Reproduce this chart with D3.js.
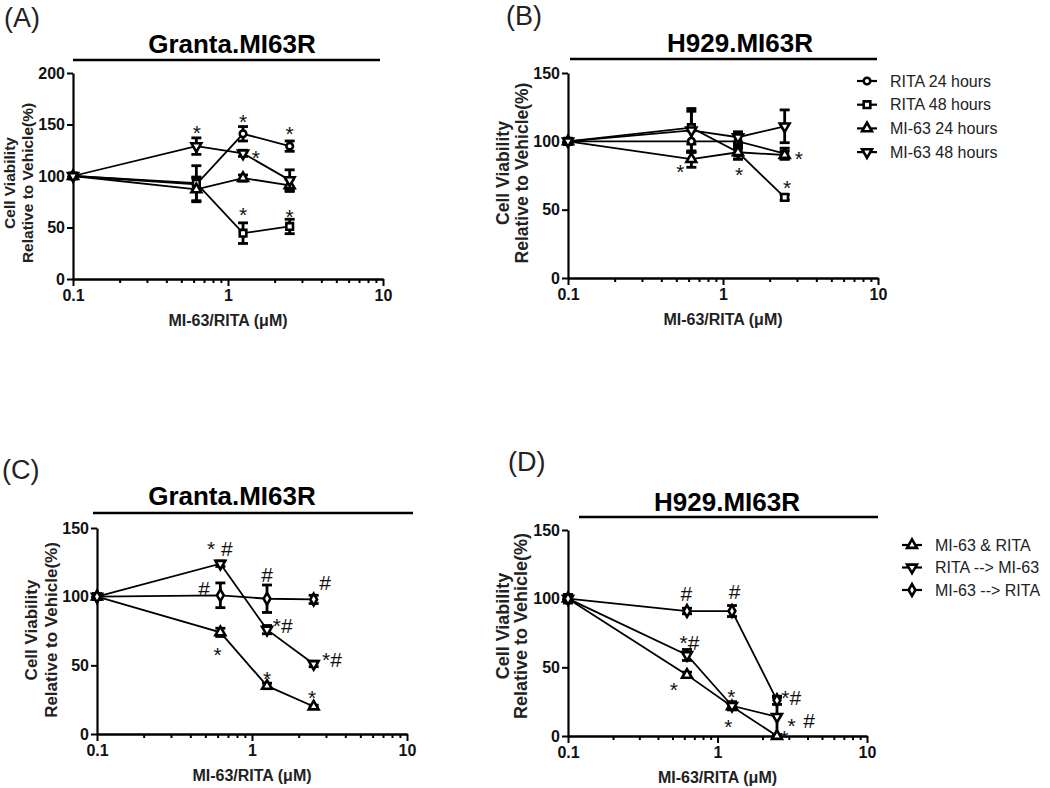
<!DOCTYPE html>
<html>
<head>
<meta charset="utf-8">
<script src="https://cdnjs.cloudflare.com/ajax/libs/d3/7.8.5/d3.min.js"></script>
<style>
  body { margin: 0; background: #fff; }
  text { font-family: Arial, "Liberation Sans", sans-serif; }
</style>
</head>
<body>
<div id="graph"></div>
<script>
//concentrations used in every panel (uM)
var conc = [0.1, 0.625, 1.25, 2.5];
var xMajor = [0.1, 1, 10];
var xMinor = [0.2, 0.3, 0.4, 0.5, 0.6, 0.7, 0.8, 0.9, 2, 3, 4, 5, 6, 7, 8, 9];

//panel A - Granta.MI63R single agents
var aRita24 = [100, 92, 141, 129];
var aRita24Err = [2, 6, 7, 5];
var aRita48 = [100, 93, 44.5, 51];
var aRita48Err = [2, 17, 10, 7];
var aMi24 = [100, 87, 98, 91];
var aMi24Err = [2, 12, 3, 6];
var aMi48 = [100, 129, 122, 96];
var aMi48Err = [2, 8, 3, 10];

//panel B - H929.MI63R single agents
var bRita24 = [100, 100, 100, 91];
var bRita24Err = [2, 8, 5, 4];
var bRita48 = [100, 110, 92, 59];
var bRita48Err = [2, 12, 5, 2];
var bMi24 = [100, 87, 92, 90];
var bMi24Err = [2, 6, 5, 3];
var bMi48 = [100, 108, 103, 111];
var bMi48Err = [2, 16, 4, 12];

//panel C - Granta.MI63R combinations
var cBoth = [100, 74, 35, 20];
var cBothErr = [2, 3, 2, 1];
var cRitaMi = [100, 124, 76, 51];
var cRitaMiErr = [2, 2, 3, 2];
var cMiRita = [100, 101, 98.5, 98];
var cMiRitaErr = [2, 9, 10, 3];

//panel D - H929.MI63R combinations
var dBoth = [100, 44.5, 21.5, 0];
var dBothErr = [3, 2, 2, 1];
var dRitaMi = [100, 59, 22, 14];
var dRitaMiErr = [3, 4, 3, 14];
var dMiRita = [100, 91, 91, 26];
var dMiRitaErr = [3, 2, 4, 3];

//legend names
var singleNames = ["RITA 24 hours", "RITA 48 hours", "MI-63 24 hours", "MI-63 48 hours"];
var comboNames = ["MI-63 & RITA", "RITA --> MI-63", "MI-63 --> RITA"];

//significance marks: [x (uM), y (%), text]
var aMarks = [[0.63, 147, "*"], [1.25, 157, "*"], [2.5, 146, "*"], [1.51, 122, "*"], [1.25, 67, "*"], [2.5, 65, "*"]];
var bMarks = [[0.53, 81, "*"], [1.27, 79, "*"], [3.09, 91, "*"], [2.59, 69.5, "*"]];
var cMarks = [[0.62, 135, "* #"], [0.49, 106, "#"], [1.25, 116, "#"], [2.96, 110, "#"], [1.58, 79, "*#"],
              [3.28, 54, "*#"], [0.6, 61, "*"], [1.25, 44, "*"], [2.44, 30, "*"]];
var dMarks = [[0.62, 104, "#"], [1.3, 105, "#"], [0.65, 68, "*#"], [0.51, 37, "*"], [1.24, 32, "*"],
              [1.18, 10, "*"], [3.11, 28, "*#"], [3.13, 11, "*"], [4.1, 11, "#"], [2.8, 2, "*"]];

var svg = d3.select("#graph").append("svg")
    .attr("width", 1050)
    .attr("height", 788);

//marker shapes
function markerPath(shape){
    if (shape === "circle") return d3.symbol(d3.symbolCircle, 34)();
    if (shape === "square") return d3.symbol(d3.symbolSquare, 44)();
    if (shape === "diamond") return d3.symbol(d3.symbolDiamond, 40)();
    return d3.symbol(d3.symbolTriangle, 42)();
}
function markerTransform(shape, px, py){
    return "translate(" + px + "," + py + ")" + (shape === "down" ? " rotate(180)" : "");
}

function drawPanel(p){
    const g = svg.append("g");
    const x = d3.scaleLog().domain([0.1, 10]).range([p.left, p.right]);
    const y = d3.scaleLinear().domain([0, p.yMax]).range([p.bottom, p.top]);

    //panel letter
    g.append("text")
        .attr("x", p.letterX).attr("y", p.letterY)
        .attr("font-size", 27).attr("fill", "#222")
        .text(p.letter);

    //title and rule
    g.append("text")
        .attr("x", p.titleX).attr("y", p.titleY)
        .attr("text-anchor", "middle")
        .attr("font-size", 26).attr("font-weight", "bold")
        .text(p.title);
    g.append("line")
        .attr("x1", p.ruleX1).attr("x2", p.ruleX2)
        .attr("y1", p.ruleY).attr("y2", p.ruleY)
        .attr("stroke", "#000").attr("stroke-width", 2.5);

    //y axis
    const yAxis = g.append("g")
        .attr("transform", "translate(" + p.left + ",0)")
        .call(d3.axisLeft(y).tickValues(p.yTicks).tickSize(6).tickSizeOuter(0).tickPadding(2));

    //x axis, minor then major ticks
    const xMinorAxis = g.append("g")
        .attr("transform", "translate(0," + p.bottom + ")")
        .call(d3.axisBottom(x).tickValues(xMinor).tickSize(4).tickSizeOuter(0).tickFormat(""));
    const xAxis = g.append("g")
        .attr("transform", "translate(0," + p.bottom + ")")
        .call(d3.axisBottom(x).tickValues(xMajor).tickSize(7).tickSizeOuter(0).tickPadding(4)
            .tickFormat(function(d){ return String(d); }));

    [yAxis, xMinorAxis, xAxis].forEach(function(a){
        a.select(".domain").attr("stroke-width", 2.2);
        a.selectAll(".tick line").attr("stroke-width", 2);
        a.selectAll("text").attr("font-size", 16).attr("font-weight", "bold").attr("fill", "#111");
    });

    //axis titles
    g.append("text")
        .attr("x", (p.left + p.right) / 2).attr("y", p.bottom + 47)
        .attr("text-anchor", "middle")
        .attr("font-size", 16).attr("font-weight", "bold").attr("fill", "#222")
        .text("MI-63/RITA (\u03BCM)");
    [["Cell Viability", p.yLab1], ["Relative to Vehicle(%)", p.yLab2]].forEach(function(l){
        g.append("text")
            .attr("transform", "translate(" + l[1] + "," + p.yLabY + ") rotate(-90)")
            .attr("text-anchor", "middle").attr("dy", "0.35em")
            .attr("font-size", p.yLabSize).attr("font-weight", "bold").attr("fill", "#222")
            .text(l[0]);
    });

    //lines
    const line = d3.line()
        .x(function(d, i){ return x(conc[i]); })
        .y(function(d){ return y(d); });
    p.series.forEach(function(s){
        g.append("path").datum(s.values)
            .attr("d", line)
            .attr("fill", "none").attr("stroke", "#000").attr("stroke-width", 1.8);
    });

    //error bars
    p.series.forEach(function(s){
        s.values.forEach(function(v, i){
            const cx = x(conc[i]);
            const lo = y(Math.max(0, v - s.errors[i]));
            const hi = y(v + s.errors[i]);
            g.append("line").attr("x1", cx).attr("x2", cx).attr("y1", lo).attr("y2", hi)
                .attr("stroke", "#000").attr("stroke-width", 2.8);
            [lo, hi].forEach(function(yy){
                g.append("line").attr("x1", cx - 5).attr("x2", cx + 5).attr("y1", yy).attr("y2", yy)
                    .attr("stroke", "#000").attr("stroke-width", 2.8);
            });
        });
    });

    //markers
    p.series.forEach(function(s){
        g.append("g").selectAll("path")
            .data(s.values)
            .enter().append("path")
            .attr("d", markerPath(s.shape))
            .attr("transform", function(d, i){ return markerTransform(s.shape, x(conc[i]), y(d)); })
            .attr("fill", "#fff").attr("stroke", "#000").attr("stroke-width", 2.6);
    });

    //significance marks
    g.append("g").selectAll("text")
        .data(p.marks)
        .enter().append("text")
        .attr("x", function(d){ return x(d[0]); })
        .attr("y", function(d){ return y(d[1]); })
        .attr("dy", function(d){ return d[2] === "*" ? "0.57em" : "0.35em"; })
        .attr("text-anchor", "middle")
        .attr("font-size", 21).attr("fill", "#111")
        .text(function(d){ return d[2]; });

    //legend
    if (p.legend){
        const lg = g.append("g");
        p.series.forEach(function(s, i){
            const ly = p.legend.y + i * p.legend.step;
            lg.append("line")
                .attr("x1", p.legend.x - 10).attr("x2", p.legend.x + 10)
                .attr("y1", ly).attr("y2", ly)
                .attr("stroke", "#000").attr("stroke-width", 2.2);
            lg.append("path")
                .attr("d", markerPath(s.shape))
                .attr("transform", markerTransform(s.shape, p.legend.x, ly))
                .attr("fill", "#fff").attr("stroke", "#000").attr("stroke-width", 2.6);
            lg.append("text")
                .attr("x", p.legend.x + 23).attr("y", ly).attr("dy", "0.35em")
                .attr("font-size", 16).attr("fill", "#222")
                .text(s.name);
        });
    }
}

function singleSeries(r24, r24e, r48, r48e, m24, m24e, m48, m48e){
    return [
        {name: singleNames[0], shape: "circle", values: r24, errors: r24e},
        {name: singleNames[1], shape: "square", values: r48, errors: r48e},
        {name: singleNames[2], shape: "up", values: m24, errors: m24e},
        {name: singleNames[3], shape: "down", values: m48, errors: m48e}
    ];
}
function comboSeries(both, bothE, rm, rmE, mr, mrE){
    return [
        {name: comboNames[0], shape: "up", values: both, errors: bothE},
        {name: comboNames[1], shape: "down", values: rm, errors: rmE},
        {name: comboNames[2], shape: "diamond", values: mr, errors: mrE}
    ];
}

drawPanel({
    letter: "(A)", letterX: 4, letterY: 27,
    title: "Granta.MI63R", titleX: 232, titleY: 53, ruleX1: 73, ruleX2: 380, ruleY: 60,
    left: 73, right: 383, top: 73, bottom: 279, yMax: 200, yTicks: [0, 50, 100, 150, 200],
    yLab1: 10, yLab2: 28, yLabY: 183, yLabSize: 15.5,
    series: singleSeries(aRita24, aRita24Err, aRita48, aRita48Err, aMi24, aMi24Err, aMi48, aMi48Err),
    marks: aMarks
});

drawPanel({
    letter: "(B)", letterX: 506, letterY: 25,
    title: "H929.MI63R", titleX: 740, titleY: 52, ruleX1: 570, ruleX2: 877, ruleY: 59,
    left: 568, right: 878, top: 73, bottom: 278, yMax: 150, yTicks: [0, 50, 100, 150],
    yLab1: 503, yLab2: 522, yLabY: 173, yLabSize: 17.5,
    series: singleSeries(bRita24, bRita24Err, bRita48, bRita48Err, bMi24, bMi24Err, bMi48, bMi48Err),
    marks: bMarks,
    legend: {x: 867, y: 81, step: 23.7}
});

drawPanel({
    letter: "(C)", letterX: 2, letterY: 479,
    title: "Granta.MI63R", titleX: 232, titleY: 505, ruleX1: 93, ruleX2: 413, ruleY: 513,
    left: 97, right: 407, top: 528, bottom: 734, yMax: 150, yTicks: [0, 50, 100, 150],
    yLab1: 31, yLab2: 51, yLabY: 630, yLabSize: 17,
    series: comboSeries(cBoth, cBothErr, cRitaMi, cRitaMiErr, cMiRita, cMiRitaErr),
    marks: cMarks
});

drawPanel({
    letter: "(D)", letterX: 508, letterY: 471,
    title: "H929.MI63R", titleX: 727, titleY: 511, ruleX1: 579, ruleX2: 878, ruleY: 517,
    left: 568, right: 867, top: 530, bottom: 736, yMax: 150, yTicks: [0, 50, 100, 150],
    yLab1: 503, yLab2: 521, yLabY: 626, yLabSize: 18,
    series: comboSeries(dBoth, dBothErr, dRitaMi, dRitaMiErr, dMiRita, dMiRitaErr),
    marks: dMarks,
    legend: {x: 912, y: 545, step: 22.5}
});
</script>
</body>
</html>
